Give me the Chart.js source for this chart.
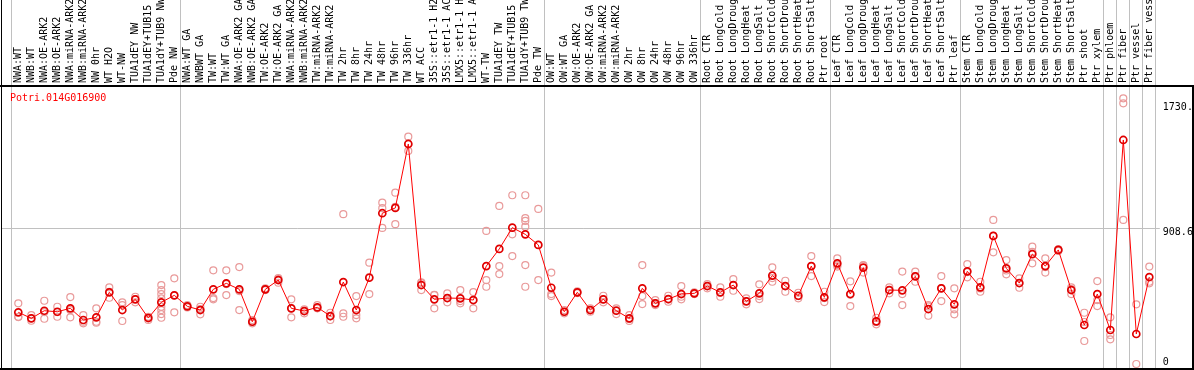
<!DOCTYPE html>
<html>
<head>
<meta charset="utf-8">
<script src="https://cdn.jsdelivr.net/npm/chart.js@4/dist/chart.umd.min.js"></script>
<style>
html,body{margin:0;padding:0;background:#fff;}
#wrap{width:1194px;height:370px;position:relative;}
canvas{display:block;}
</style>
</head>
<body>
<div id="wrap"><canvas id="c" width="1194" height="370"></canvas></div>
<script>
const geneId = 'Potri.014G016900';

const categories = ["NWA:WT","NWB:WT","NWA:OE-ARK2","NWB:OE-ARK2","NWA:miRNA-ARK2","NWB:miRNA-ARK2","NW 0hr","WT H2O","WT-NW","TUA1dEY NW","TUA1dEY+TUB15","TUA1dY+TUB9 NW","Pde NW","NWA:WT GA","NWBWT GA","TW:WT","TW:WT GA","NWA:OE-ARK2 GA","NWB:OE-ARK2 GA","TW:OE-ARK2","TW:OE-ARK2 GA","NWA:miRNA-ARK2","NWB:miRNA-ARK2","TW:miRNA-ARK2","TW:miRNA-ARK2","TW 2hr","TW 8hr","TW 24hr","TW 48hr","TW 96hr","TW 336hr","WT ACC","35S::etr1-1 H2O","35S::etr1-1 ACC","LMX5::etr1-1 H2O","LMX5::etr1-1 ACC","WT-TW","TUA1dEY TW","TUA1dEY+TUB15","TUA1dY+TUB9 TW","Pde TW","OW:WT","OW:WT GA","OW:OE-ARK2","OW:OE-ARK2 GA","OW:miRNA-ARK2","OW:miRNA-ARK2","OW 2hr","OW 8hr","OW 24hr","OW 48hr","OW 96hr","OW 336hr","Root CTR","Root LongCold","Root LongDrought","Root LongHeat","Root LongSalt","Root ShortCold","Root ShortDrought","Root ShortHeat","Root ShortSalt","Ptr root","Leaf CTR","Leaf LongCold","Leaf LongDrought","Leaf LongHeat","Leaf LongSalt","Leaf ShortCold","Leaf ShortDrought","Leaf ShortHeat","Leaf ShortSalt","Ptr leaf","Stem CTR","Stem LongCold","Stem LongDrought","Stem LongHeat","Stem LongSalt","Stem ShortCold","Stem ShortDrought","Stem ShortHeat","Stem ShortSalt","Ptr shoot","Ptr xylem","Ptr phloem","Ptr fiber","Ptr vessel","Ptr fiber vessel"];

const meanValues = [320,278,331,324,348,266,285,460,336,411,
  280,390,439,362,336,481,523,481,254,481,
  546,348,329,355,294,532,336,562,1014,1051,
  1499,511,411,420,418,406,644,764,913,866,
  792,492,324,460,336,411,331,278,488,383,
  413,448,453,504,460,511,397,453,577,504,
  436,644,425,663,448,633,257,476,474,572,
  343,488,376,607,495,855,628,525,728,644,
  757,476,231,448,196,1527,168,567];

const replicateValues = [
  [383,289,287],[301,261,278],[401,275,322],[359,289,322],[427,285,336],
  [301,243,254],[348,254,247],[495,464,422],[390,371,259],[429,390,413],
  [289,266,287],[511,476,448,418,359,336,308,282],[558,320,439],[362,371,354],[359,306,343],
  [614,411,420],[614,441,518],[637,336,469],[266,243,254],[488,476,481],
  [553,527,560],[411,285,348],[341,313,329],[371,348,350],[317,266,292],
  [1007,313,289],[434,301,278],[668,448,567],[1088,1049,911],[1158,937,1058],
  [1550,1450,1499],[530,476,525],[443,348,441],[453,390,420],[476,383,399],
  [462,348,406],[890,546,499],[1065,644,588],[1140,866,714],[1140,979,960,920,651,499],
  [1044,546,792],[598,434,448],[313,324,336],[460,455,466],[324,336,347],
  [436,390,411],[348,308,336],[301,259,273],[651,434,378],[406,371,385],
  [436,394,410],[504,411,429],[453,459,448],[518,488,504],[495,429,459],
  [553,471,511],[418,376,399],[516,413,434],[635,534,560],[541,464,504],
  [457,418,434],[714,574,644],[464,392,420],[698,640,651],[537,364,443],
  [647,598,651],[282,236,252],[495,453,476],[605,448,371],[605,534,574],
  [371,296,361],[574,399,490],[488,341,306],[658,565,602],[534,464,487],
  [967,740,855],[686,586,613],[558,492,525],[780,663,743],[698,598,637],
  [761,750,759],[495,448,483],[317,119,252],[539,406,364],[285,161,131],
  [1819,1784,967],[376,-42],[640,534,523]
];

const yTickValues = [0, 908.6, 1730.4];
const groupBoundaries = [0, 13, 41, 53, 63, 73, 84, 85, 86, 87, 88];

const GRID = '#c0c0c0';
const NONE = 'rgba(0,0,0,0)';
const FONT = 'DejaVu Sans Mono';

const replicatePoints = [];
replicateValues.forEach((reps, i) => reps.forEach(v => replicatePoints.push({x: i, y: v})));

const framePlugin = {
  id: 'frame',
  beforeDatasetsDraw(chart) {
    const ctx = chart.ctx;
    const y = Math.round(chart.scales.y.getPixelForValue(yTickValues[1])) + 0.5;
    ctx.save();
    ctx.strokeStyle = GRID;
    ctx.lineWidth = 1;
    ctx.beginPath();
    ctx.moveTo(2, y);
    ctx.lineTo(chart.chartArea.left, y);
    ctx.stroke();
    ctx.restore();
  },
  afterDraw(chart) {
    const ctx = chart.ctx;
    const W = chart.width, H = chart.height;
    ctx.save();
    ctx.fillStyle = '#000';
    ctx.fillRect(0, 85, W, 2);
    ctx.fillRect(0, 368, W, 2);
    ctx.fillRect(1, 0, 1, H);
    ctx.fillRect(W - 2, 87, 2, H - 87);
    ctx.fillStyle = '#ff0000';
    ctx.font = '10px "' + FONT + '"';
    ctx.textBaseline = 'alphabetic';
    ctx.textAlign = 'left';
    ctx.fillText(geneId, 10, 101);
    ctx.restore();
  }
};

const zeroPad = s => { s.paddingLeft = 0; s.paddingRight = 0; s.paddingTop = 0; s.paddingBottom = 0; };

new Chart(document.getElementById('c'), {
  type: 'line',
  data: {
    labels: categories,
    datasets: [
      {
        label: 'mean',
        data: meanValues,
        borderColor: '#ff0000',
        borderWidth: 1,
        pointRadius: 3.5,
        pointBorderWidth: 1.7,
        pointBorderColor: '#e00000',
        pointBackgroundColor: NONE,
        pointStyle: 'circle',
        tension: 0,
        order: 0
      },
      {
        label: 'replicates',
        data: replicatePoints,
        xAxisID: 'xr',
        showLine: false,
        pointRadius: 3.5,
        pointBorderWidth: 1.2,
        pointBorderColor: '#e99a9a',
        pointBackgroundColor: NONE,
        pointStyle: 'circle',
        order: 1
      }
    ]
  },
  options: {
    responsive: false,
    animation: false,
    events: [],
    layout: { autoPadding: false, padding: { left: 11.8, right: 0, top: 0, bottom: 1 } },
    plugins: { legend: { display: false }, tooltip: { enabled: false }, title: { display: false } },
    scales: {
      x: {
        type: 'category',
        position: 'top',
        offset: true,
        afterFit: s => { s.height = 87; zeroPad(s); },
        grid: {
          offset: true,
          lineWidth: 1,
          drawTicks: true,
          tickLength: 87,
          color: ctx => (ctx.type === 'scale' || groupBoundaries.includes(ctx.index)) ? GRID : NONE
        },
        border: { display: false },
        ticks: {
          autoSkip: false,
          minRotation: 90,
          maxRotation: 90,
          padding: -83,
          labelOffset: 12.5,
          color: '#000',
          font: { family: FONT, size: 10 }
        }
      },
      xr: {
        type: 'linear',
        display: false,
        min: -0.5,
        max: categories.length - 0.5
      },
      y: {
        position: 'right',
        min: -77,
        max: 1898,
        afterFit: s => { s.width = 38.2; zeroPad(s); },
        afterBuildTicks: s => { s.ticks = yTickValues.map(v => ({ value: v })); },
        grid: {
          drawTicks: true,
          tickLength: 4,
          lineWidth: 1,
          color: ctx => (ctx.tick && ctx.tick.value === yTickValues[1]) ? GRID : NONE
        },
        border: { display: false },
        ticks: {
          padding: 3,
          labelOffset: 4,
          color: '#000',
          font: ctx => ({ family: FONT, size: 10, lineHeight: ctx.index === 2 ? '16px' : 1.2 }),
          callback: (v, i) => i === 2 ? [String(v), ''] : String(v)
        }
      }
    }
  },
  plugins: [framePlugin]
});
</script>
</body>
</html>
